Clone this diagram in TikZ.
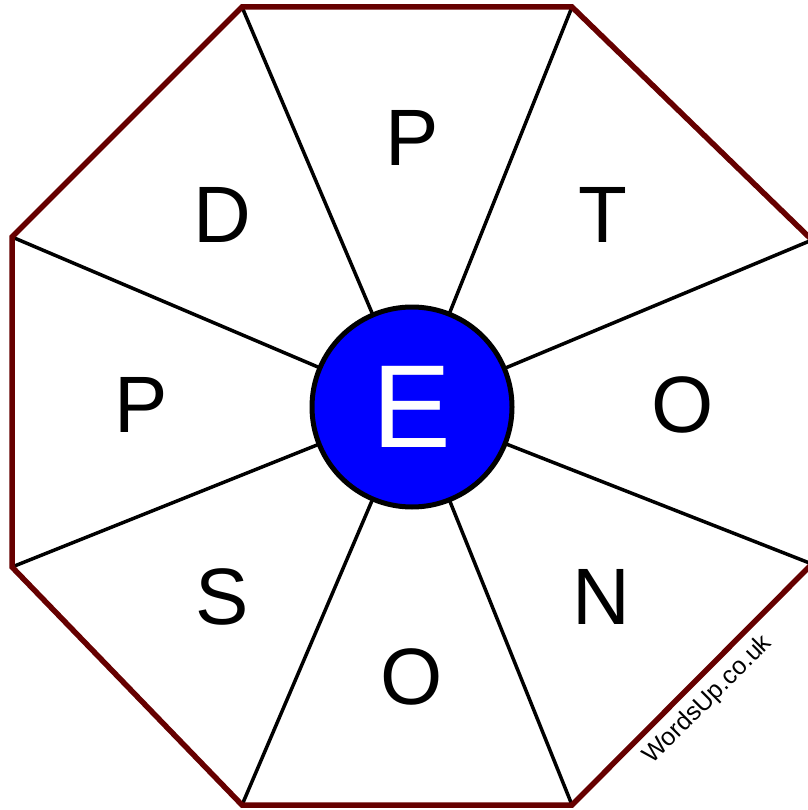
\documentclass[tikz,border=0pt]{standalone}
\usepackage{fontspec}
\setmainfont{Liberation Sans}
\definecolor{rim}{RGB}{102,0,0}
\definecolor{hub}{RGB}{0,0,255}
\begin{document}
\begin{tikzpicture}[x=1pt,y=-1pt,
  spoke/.style={line width=3.5pt,black},
  rimline/.style={line width=5.5pt,rim,line join=miter},
  letter/.style={font=\fontsize{80}{80}\selectfont,inner sep=0pt,anchor=center},
  hubnode/.style={circle,draw=black,line width=5pt,fill=hub,minimum size=200pt,inner sep=0pt,text=white,font=\fontsize{118}{118}\selectfont}]
\useasboundingbox (0,0) rectangle (807,810);
\coordinate (v1) at (242,7);
\coordinate (v2) at (572,7);
\coordinate (v3) at (812,240);
\coordinate (v4) at (812,564);
\coordinate (v5) at (572,805);
\coordinate (v6) at (242,805);
\coordinate (v7) at (12,567);
\coordinate (v8) at (12,237);
\coordinate (c) at (412,407);
\foreach \v in {v1,v2,v3,v4,v5,v6,v7,v8}{\draw[spoke] (c) -- (\v);}
\draw[rimline] (v1) -- (v2) -- (v3) -- (v4) -- (v5) -- (v6) -- (v7) -- (v8) -- cycle;
\node[hubnode] (hub) at (c) {E};
\node[letter] (l1) at (412,138) {P};
\node[letter] (l2) at (603,215) {T};
\node[letter] (l3) at (683,405) {O};
\node[letter] (l4) at (601,597) {N};
\node[letter] (l5) at (412,677) {O};
\node[letter] (l6) at (222,597) {S};
\node[letter] (l7) at (141,405) {P};
\node[letter] (l8) at (222,215) {D};
\node[font=\fontsize{25}{25}\selectfont,rotate=45,inner sep=0pt] (wm) at (708,700) {WordsUp.co.uk};
\end{tikzpicture}
\end{document}
